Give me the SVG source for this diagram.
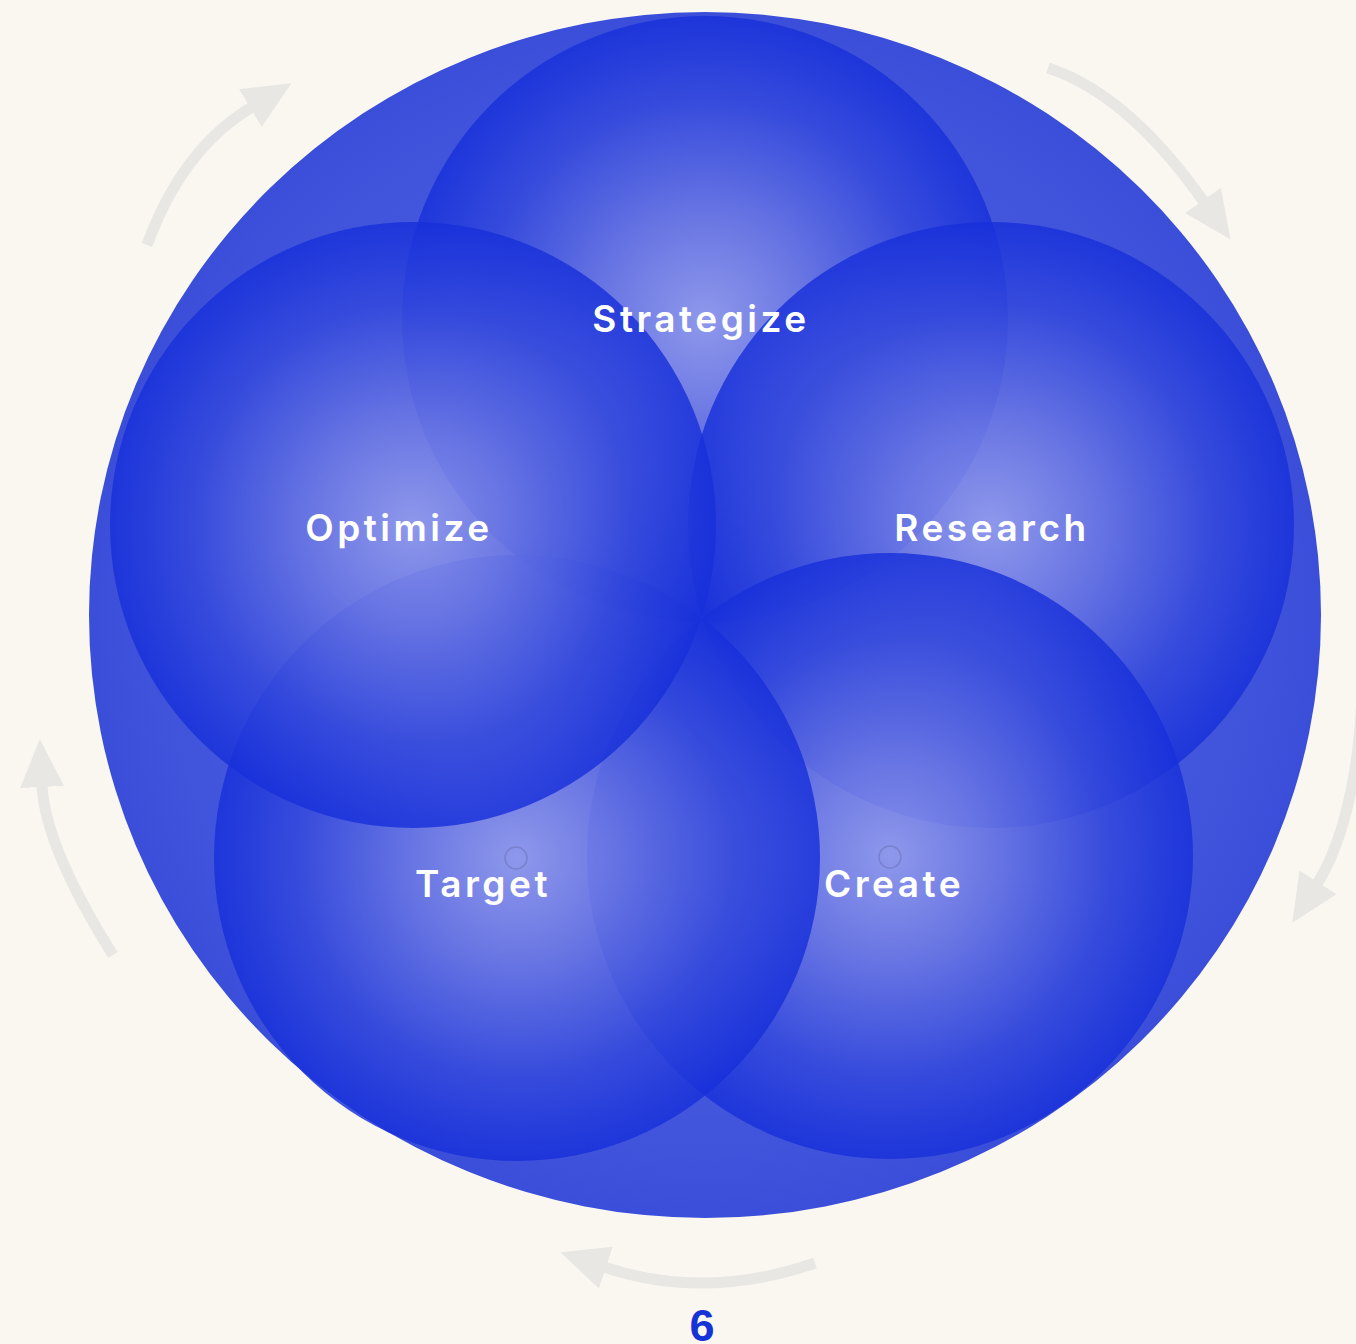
<svg xmlns="http://www.w3.org/2000/svg" width="1356" height="1344" viewBox="0 0 1356 1344">
<defs>
<radialGradient id="bigG" cx="50%" cy="50%" r="50%">
<stop offset="0%" stop-color="#5566e0"/>
<stop offset="80%" stop-color="#4357dd"/>
<stop offset="100%" stop-color="#3a4ed9"/>
</radialGradient>
<radialGradient id="nodeG" cx="50%" cy="50%" r="50%">
<stop offset="0%" stop-color="#9da5ee"/>
<stop offset="30%" stop-color="#7681e5"/>
<stop offset="72%" stop-color="#3449dc"/>
<stop offset="100%" stop-color="#172fda"/>
</radialGradient>
<marker id="ah" markerUnits="userSpaceOnUse" markerWidth="48" markerHeight="44" viewBox="0 0 48 44" refX="2" refY="22" orient="auto">
<path d="M0,0 L48,22 L0,44 z" fill="#e8e7e4"/>
</marker>
</defs>
<style>
.node circle{fill:url(#nodeG);opacity:0.82}
.lbl{font-family:Inter,"Open Sans","Liberation Sans",sans-serif;font-weight:600;font-size:37px;fill:#ffffff;letter-spacing:3.5px;text-anchor:middle}
.arr{fill:none;stroke:#e8e7e4;stroke-width:11;marker-end:url(#ah)}
.icon{fill:none;stroke:#5a5f9a;stroke-opacity:0.35;stroke-width:1.5}
</style>
<rect width="1356" height="1344" fill="#f9f7f0"/>
<g id="outer">
<ellipse cx="705" cy="615" rx="616" ry="603" fill="url(#bigG)"/>
</g>
<g id="node-strategize" class="node"><circle cx="705" cy="319" r="303"/></g>
<g id="node-research" class="node"><circle cx="991" cy="525" r="303"/></g>
<g id="node-create" class="node"><circle cx="890" cy="856" r="303"/></g>
<g id="node-target" class="node"><circle cx="517" cy="858" r="303"/></g>
<g id="node-optimize" class="node"><circle cx="413" cy="525" r="303"/></g>
<g id="labels">
<text class="lbl" x="701" y="332">Strategize</text>
<text class="lbl" x="399" y="541">Optimize</text>
<text class="lbl" x="992" y="541">Research</text>
<circle class="icon" cx="516" cy="858" r="11"/>
<text class="lbl" x="483" y="897">Target</text>
<circle class="icon" cx="890" cy="857" r="11"/>
<text class="lbl" x="894" y="897">Create</text>
</g>
<g id="connectors">
<path class="arr" d="M147,245 Q182,149 252,107"/>
<path class="arr" d="M1048,68 Q1128,94 1204,202"/>
<path class="arr" d="M1362,680 C1362,760 1345,840 1317,884"/>
<path class="arr" d="M815,1263 Q705,1301 604,1267"/>
<path class="arr" d="M113,955 Q45,847 42,785"/>
</g>
<text x="702" y="1341" font-family="Liberation Sans, Arial, sans-serif" font-weight="700" font-size="45" fill="#1533d6" text-anchor="middle">6</text>
</svg>
